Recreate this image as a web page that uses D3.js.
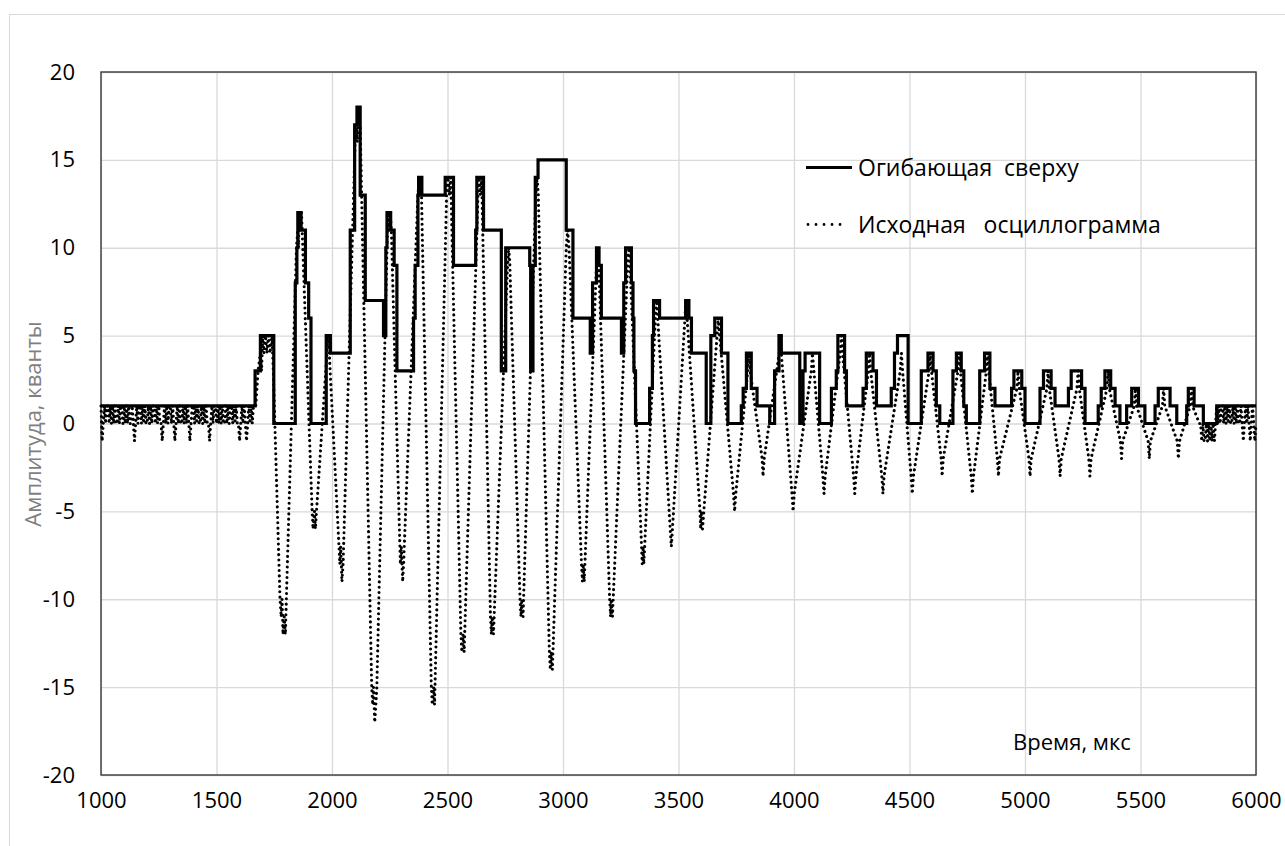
<!DOCTYPE html>
<html>
<head>
<meta charset="utf-8">
<script src="https://cdn.jsdelivr.net/npm/d3@7"></script>
<style>
  body { margin: 0; background: #fff; }
  svg { display: block; }
  text { font-family: "Open Sans", "Noto Sans", "Liberation Sans", sans-serif; }
</style>
</head>
<body>
<svg id="chart" width="1285" height="846"></svg>
<script>
// Axis ticks
const xTicks = [1000, 1500, 2000, 2500, 3000, 3500, 4000, 4500, 5000, 5500, 6000];
const yTicks = [-20, -15, -10, -5, 0, 5, 10, 15, 20];

// Upper envelope: step changes (time in µs, amplitude in quanta)
const envTime = [1000, 1667, 1690, 1748, 1841, 1848, 1852, 1866, 1885, 1899, 1909,
  1975, 1993, 2079, 2098, 2108, 2122, 2144, 2223, 2233, 2238, 2254, 2269, 2281,
  2353, 2360, 2372, 2375, 2389, 2490, 2526, 2622, 2627, 2656, 2733, 2752, 2856,
  2860, 2870, 2880, 2892, 3014, 3043, 3118, 3128, 3145, 3156, 3166, 3253, 3263,
  3271, 3296, 3303, 3307, 3314, 3375, 3387, 3392, 3418, 3531, 3545, 3556, 3620,
  3640, 3657, 3686, 3714, 3772, 3780, 3794, 3815, 3840, 3895, 3916, 3935, 3945,
  4025, 4039, 4048, 4111, 4162, 4183, 4190, 4219, 4227, 4299, 4313, 4342, 4357,
  4421, 4435, 4448, 4494, 4551, 4580, 4602, 4616, 4631, 4688, 4703, 4724, 4735,
  4746, 4804, 4825, 4848, 4870, 4942, 4952, 4986, 5000, 5065, 5080, 5113, 5130,
  5188, 5200, 5245, 5260, 5317, 5330, 5346, 5371, 5390, 5411, 5440, 5462, 5491,
  5519, 5563, 5577, 5628, 5657, 5700, 5707, 5732, 5772, 5830, 6000];
const envAmp = [1, 3, 5, 0, 8, 10, 12, 11, 8, 6, 0,
  5, 4, 11, 17, 18, 13, 7, 5, 10, 12, 11, 9, 3,
  6, 9, 13, 14, 13, 14, 9, 11, 14, 11, 3, 10, 9,
  3, 9, 14, 15, 11, 6, 4, 8, 10, 9, 6, 4, 8,
  10, 8, 6, 3, 0, 2, 5, 7, 6, 7, 6, 4, 0,
  5, 6, 4, 0, 1, 2, 4, 2, 1, 0, 3, 5, 4,
  0, 3, 4, 0, 2, 3, 5, 3, 1, 2, 4, 3, 1,
  2, 4, 5, 0, 3, 4, 3, 1, 0, 3, 4, 3, 1,
  0, 3, 4, 2, 1, 2, 3, 2, 0, 2, 3, 2, 1,
  2, 3, 2, 0, 1, 2, 3, 2, 1, 0, 1, 2, 1,
  0, 1, 2, 1, 0, 1, 2, 1, 0, 1, 1];

// Raw oscillogram: quiet noise before the burst (5 µs samples from 1000 µs)
const noiseHeadStart = 1000;
const noiseStep = 5;
const noiseHead = [
  1, -1, 0, 1, 0, 1, 1, 0, 1, 0,
  1, 0, 1, 0, 0, 1, 0, 1, 1, 0,
  1, 0, 1, 0, 1, 0, 0, 1, 0, -1,
  0, 1, 0, 1, 1, 0, 1, 0, 1, 0,
  0, 1, 0, 1, 0, 1, 1, 0, 1, 0,
  1, 0, 0, -1, 0, 1, 0, 1, 0, 1,
  1, 0, 1, 0, -1, 0, 1, 0, 1, 0,
  0, 1, 0, 1, 0, 1, 0, -1, 0, 1,
  1, 0, 1, 0, 1, 0, 0, 1, 0, 1,
  0, 1, 0, 0, -1, 0, 1, 0, 1, 1,
  0, 1, 0, 1, 0, 1, 0, 0, 1, 0,
  1, 0, 1, 1, 0, 1, 0, 1, 0, 0,
  -1, 0, 1, 0, 1, 0, -1, 0, 1, 0,
  1, 0, 1, 1];

// Raw oscillogram: the burst, peaks and troughs with quantization steps
const burstTime = [1670, 1680, 1690, 1695, 1700, 1705, 1712, 1718, 1725, 1732, 1740, 1746,
  1775, 1780, 1784, 1788, 1793, 1798,
  1846, 1852, 1855, 1858, 1862, 1868,
  1914, 1918, 1924, 1928, 1933,
  1978, 1983, 1988,
  2034, 2038, 2043, 2048,
  2100, 2106, 2110, 2113, 2117, 2122,
  2172, 2176, 2180, 2185, 2190, 2194,
  2240, 2244, 2247, 2252, 2257,
  2296, 2300, 2306, 2310,
  2372, 2378, 2382, 2386,
  2430, 2434, 2440, 2444,
  2496, 2502, 2508, 2514,
  2558, 2562, 2567, 2572,
  2632, 2637, 2642, 2648,
  2686, 2690, 2694, 2699,
  2760, 2765, 2770,
  2814, 2818, 2822, 2827,
  2882, 2888, 2893,
  2941, 2945, 2949, 2954,
  3014, 3020, 3026,
  3080, 3084, 3087, 3092,
  3145, 3150, 3155,
  3202, 3206, 3209, 3214,
  3280, 3285, 3290,
  3340, 3343, 3346, 3350,
  3400, 3405, 3410,
  3464, 3469, 3474,
  3528, 3532, 3537,
  3593, 3596, 3599, 3604,
  3667, 3672, 3678,
  3738, 3743, 3748,
  3800, 3805, 3810,
  3862, 3866, 3871,
  3936, 3940, 3945,
  3991, 3996, 4001,
  4075, 4080, 4086,
  4125, 4130, 4135,
  4200, 4205, 4210,
  4258, 4263, 4268,
  4322, 4327, 4332,
  4380, 4385, 4390,
  4460, 4465, 4470,
  4507, 4512, 4517,
  4585, 4590, 4595,
  4637, 4641, 4646,
  4710, 4715, 4720,
  4767, 4772, 4777,
  4833, 4838, 4843,
  4880, 4885, 4890,
  4965, 4970, 4975,
  5017, 5022, 5027,
  5095, 5100, 5105,
  5147, 5152, 5157,
  5225, 5230, 5235,
  5276, 5281, 5286,
  5355, 5360, 5365,
  5413, 5418, 5423,
  5473, 5478, 5483,
  5533, 5538, 5543,
  5595, 5600, 5605,
  5659, 5664, 5669,
  5715, 5720, 5725,
  5755];
const burstAmp = [1, 3, 4, 3, 5, 4, 5, 4, 5, 4, 5, 3,
  -10, -11, -10, -12, -11, -12,
  10, 11, 10, 12, 11, 12,
  -5, -6, -5, -6, -5,
  4, 5, 4,
  -8, -7, -9, -8,
  16, 17, 16, 18, 17, 17,
  -15, -16, -15, -17, -16, -15,
  11, 12, 11, 12, 11,
  -8, -7, -9, -8,
  13, 14, 13, 14,
  -15, -16, -15, -16,
  13, 14, 13, 14,
  -12, -13, -12, -13,
  13, 14, 13, 14,
  -11, -12, -11, -12,
  9, 10, 9,
  -10, -11, -10, -11,
  13, 14, 13,
  -13, -14, -13, -14,
  10, 11, 10,
  -8, -9, -8, -9,
  9, 10, 9,
  -10, -11, -10, -11,
  9, 10, 9,
  -7, -8, -7, -8,
  6, 7, 6,
  -6, -7, -6,
  6, 7, 6,
  -5, -6, -5, -6,
  5, 6, 5,
  -4, -5, -4,
  3, 4, 3,
  -2, -3, -2,
  4, 5, 4,
  -4, -5, -4,
  3, 4, 3,
  -3, -4, -3,
  4, 5, 4,
  -3, -4, -3,
  3, 4, 3,
  -3, -4, -3,
  3, 4, 3,
  -3, -4, -3,
  3, 4, 3,
  -2, -3, -2,
  3, 4, 3,
  -3, -4, -3,
  3, 4, 3,
  -2, -3, -2,
  2, 3, 2,
  -2, -3, -2,
  2, 3, 2,
  -2, -3, -2,
  2, 3, 2,
  -2, -3, -2,
  2, 3, 2,
  -1, -2, -1,
  1, 2, 1,
  -1, -2, -1,
  1, 2, 1,
  -1, -2, -1,
  1, 2, 1,
  0];

// Raw oscillogram: decaying noise after the burst (5 µs samples from 5760 µs)
const noiseTailStart = 5760;
const noiseTail = [
  0, -1, 0, -1, -1, 0, -1, 0, -1, 0, -1, 0, -1, 0,
  1, 0, 1, 0, 1, 1, 0, 1, 0, 1, 0, 1, 0, 0, 1, 0, 1, 0,
  1, 0, 0, 1, 0, -1, 0, 1, 0, 1, 0, -1, 0, 1, 0, -1, 0];

const margin = { left: 101, right: 1256, top: 72, bottom: 775 };
const svg = d3.select("#chart");

// Outer chart frame
svg.append("rect")
  .attr("x", 9.5).attr("y", 14.5)
  .attr("width", 1300).attr("height", 900)
  .attr("fill", "#fff").attr("stroke", "#d9d9d9").attr("stroke-width", 1);

const x = d3.scaleLinear().domain([1000, 6000]).range([margin.left, margin.right]);
const y = d3.scaleLinear().domain([-20, 20]).range([margin.bottom, margin.top]);

// Gridlines + tick labels
const gx = svg.append("g")
  .attr("transform", `translate(0,${margin.bottom})`)
  .call(d3.axisBottom(x).tickValues(xTicks)
    .tickSize(-(margin.bottom - margin.top)).tickPadding(12)
    .tickFormat(d3.format("d")));
const gy = svg.append("g")
  .attr("transform", `translate(${margin.left},0)`)
  .call(d3.axisLeft(y).tickValues(yTicks)
    .tickSize(-(margin.right - margin.left)).tickPadding(26)
    .tickFormat(d => d < 0 ? "-" + Math.abs(d) : String(d)));
[gx, gy].forEach(g => {
  g.select(".domain").remove();
  g.selectAll(".tick line").attr("stroke", "#d9d9d9").attr("stroke-width", 1.3);
  g.selectAll(".tick text").attr("fill", "#000").style("font-size", "22px");
});
gx.selectAll(".tick text").attr("dy", "0.95em");

// Plot area border
svg.append("rect")
  .attr("x", margin.left).attr("y", margin.top)
  .attr("width", margin.right - margin.left)
  .attr("height", margin.bottom - margin.top)
  .attr("fill", "none").attr("stroke", "#3a3a3a").attr("stroke-width", 1.4);

// Assemble oscillogram points
const osc = [];
noiseHead.forEach((v, i) => osc.push([noiseHeadStart + i * noiseStep, v]));
burstTime.forEach((t, i) => osc.push([t, burstAmp[i]]));
noiseTail.forEach((v, i) => osc.push([noiseTailStart + i * noiseStep, v]));

const lineGen = d3.line().x(d => x(d[0])).y(d => y(d[1]));

svg.append("path")
  .datum(osc)
  .attr("d", lineGen)
  .attr("fill", "none")
  .attr("stroke", "#000")
  .attr("stroke-width", 3.1)
  .attr("stroke-linecap", "round")
  .attr("stroke-dasharray", "0.01 5.3");

// Envelope
const env = envTime.map((t, i) => [t, envAmp[i]]);
svg.append("path")
  .datum(env)
  .attr("d", d3.line().curve(d3.curveStepAfter).x(d => x(d[0])).y(d => y(d[1])))
  .attr("fill", "none")
  .attr("stroke", "#000")
  .attr("stroke-width", 3.2)
  .attr("stroke-linejoin", "miter");

// Legend
const legend = svg.append("g");
legend.append("line")
  .attr("x1", 806).attr("x2", 852).attr("y1", 167.5).attr("y2", 167.5)
  .attr("stroke", "#000").attr("stroke-width", 3.2);
legend.append("text")
  .attr("x", 858).attr("y", 167.5).attr("dy", "0.35em")
  .style("font-size", "23px").style("white-space", "pre")
  .text("Огибающая  сверху");
legend.append("line")
  .attr("x1", 808).attr("x2", 848).attr("y1", 224.5).attr("y2", 224.5)
  .attr("stroke", "#000").attr("stroke-width", 2.8)
  .attr("stroke-linecap", "round").attr("stroke-dasharray", "0.01 8");
legend.append("text")
  .attr("x", 858).attr("y", 224.5).attr("dy", "0.35em")
  .style("font-size", "23px").style("white-space", "pre")
  .text("Исходная   осциллограмма");

// Axis titles
svg.append("text")
  .attr("transform", "translate(33,424) rotate(-90)")
  .attr("text-anchor", "middle").attr("dy", "0.35em")
  .attr("fill", "#7f7f7f")
  .style("font-size", "22px")
  .text("Амплитуда, кванты");
svg.append("text")
  .attr("x", 1072).attr("y", 742)
  .attr("text-anchor", "middle").attr("dy", "0.35em")
  .style("font-size", "22px")
  .text("Время, мкс");
</script>
</body>
</html>
